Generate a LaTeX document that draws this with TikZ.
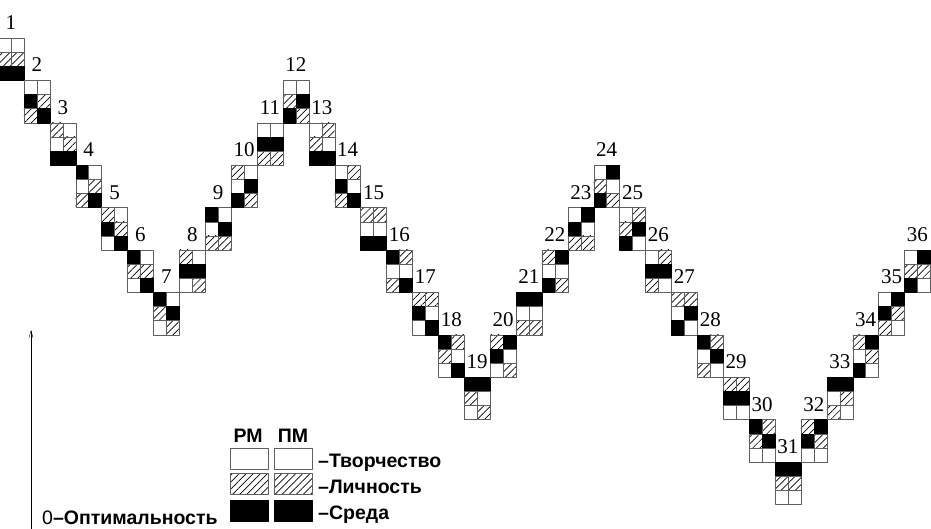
\documentclass[tikz,border=0pt]{standalone}
\usepackage{fontspec}
\setmainfont{Liberation Serif}
\setsansfont{Liberation Sans}
\usetikzlibrary{arrows.meta,patterns.meta}
\definecolor{edgegray}{RGB}{95,95,95}

\begin{document}
\begin{tikzpicture}[x=1pt,y=-1pt,line join=round,
  cellW/.style={draw=edgegray,fill=white},
  cellH/.style={draw=edgegray,pattern={Lines[angle=45,distance=5pt,line width=.7pt]}},
  cellB/.style={draw=black,fill=black},
  num/.style={font=\fontsize{21}{21}\selectfont,anchor=base,inner sep=0pt},
  legtxt/.style={font=\sffamily\bfseries\fontsize{19.5}{19.5}\selectfont,anchor=base west,inner sep=0pt},
  legbox/.style={minimum width=38,minimum height=21,inner sep=0pt}]
  \useasboundingbox (0,0) rectangle (931,529);
  \clip (0,0) rectangle (931,529);
  \foreach \n/\l/\ca/\cb/\cc/\cd/\ce/\cf in {
    1/0/W/W/H/H/B/B, 2/1/W/W/B/H/H/B, 3/2/H/W/W/H/B/B, 4/3/B/W/W/H/H/B,
    5/4/H/W/B/H/W/B, 6/5/B/W/H/H/W/B, 7/6/B/W/H/B/W/H, 8/5/H/W/B/B/W/H,
    9/4/B/W/W/B/H/H, 10/3/H/W/W/B/B/H, 11/2/W/W/B/B/H/H, 12/1/W/W/H/B/B/H,
    13/2/W/H/H/W/B/B, 14/3/W/H/B/W/H/B, 15/4/H/H/W/W/B/B, 16/5/B/H/W/W/H/B,
    17/6/H/H/B/W/W/B, 18/7/B/H/H/W/W/B, 19/8/B/B/H/W/W/H, 20/7/H/B/B/W/W/H,
    21/6/B/B/W/W/H/H, 22/5/H/B/W/W/B/H, 23/4/W/B/B/W/H/H, 24/3/W/B/H/W/B/H,
    25/4/W/H/H/B/B/W, 26/5/W/H/B/B/H/W, 27/6/H/H/W/B/B/W, 28/7/B/H/W/B/H/W,
    29/8/H/H/B/B/W/W, 30/9/B/H/H/B/W/W, 31/10/B/B/H/H/W/W, 32/9/H/B/B/H/W/W,
    33/8/B/B/W/H/H/W, 34/7/H/B/W/H/B/W, 35/6/W/B/B/H/H/W, 36/5/W/B/H/H/B/W} {
    \pgfmathsetmacro\xa{-2+(\n-1)*25.9}
    \pgfmathsetmacro\ya{38+\l*42.4}
    \foreach \st/\i/\j in {\ca/0/0,\cb/1/0,\cc/0/1,\cd/1/1,\ce/0/2,\cf/1/2}
      \draw[cell\st] (\xa+\i*12.95,\ya+\j*14.13) rectangle ++(12.95,14.13);
    \node[num] (n\n) at (\xa+12.95,\ya-8.5) {\n};
  }
  \node[legtxt,anchor=base] (rm) at (248,442) {РМ};
  \node[legtxt,anchor=base] (pm) at (293,442) {ПМ};
  \foreach \k/\y/\s in {T/458.5/W,L/484/H,S/510.5/B} {
    \node[legbox,cell\s] (rm\k) at (249,\y) {};
    \node[legbox,cell\s] (pm\k) at (293,\y) {};
  }
  \node[legtxt] (tT) at (318,467) {–Творчество};
  \node[legtxt] (tL) at (318,493) {–Личность};
  \node[legtxt] (tS) at (318,519) {–Среда};
  \node[legtxt] (opt) at (42,524) {{\mdseries 0}–Оптимальность};
  \coordinate (ax0) at (31,529); \coordinate (ax1) at (31,330);
  \draw[-{Straight Barb[length=7pt,width=4pt]}] (ax0) -- (ax1);
\end{tikzpicture}
\end{document}
